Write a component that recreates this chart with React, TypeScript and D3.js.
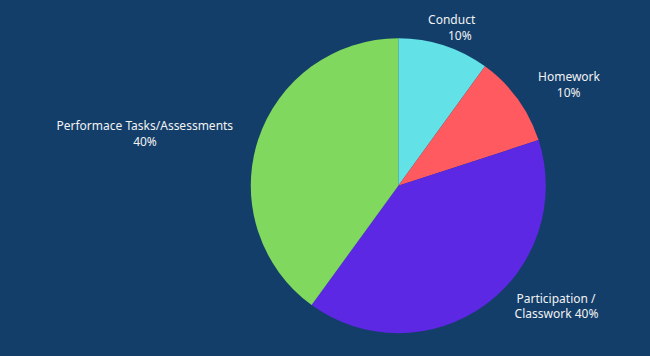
import React from "react";
import * as d3 from "d3";

const categories = ["Conduct", "Homework", "Participation / Classwork", "Performace Tasks/Assessments"];
const values = [10, 10, 40, 40];
const colors = ["#62e1e6", "#ff5a5f", "#5c28e3", "#80d85e"];
const labelLines = [
  ["Conduct", "10%"],
  ["Homework", "10%"],
  ["Participation /", "Classwork 40%"],
  ["Performace Tasks/Assessments", "40%"],
];
// per-line horizontal centres and first baseline
const labelX = [
  [451.7, 459.8],
  [569, 568.7],
  [556, 556.5],
  [144.8, 145],
];
const labelY = [24, 81, 302.5, 130];

export default function App() {
  const W = 650, H = 356;
  const cx = 398.3, cy = 185.7, r = 147.5;
  const pie = d3.pie<number>().sort(null).value((d) => d)(values);
  const arc = d3.arc<d3.PieArcDatum<number>>().innerRadius(0).outerRadius(r);
  return (
    <svg width={W} height={H} style={{ position: "absolute", left: 0, top: 0, display: "block" }}>
      <rect width={W} height={H} fill="#133e6a" />
      <g transform={`translate(${cx},${cy})`}>
        {pie.map((p, i) => (
          <path key={categories[i]} d={arc(p) || ""} fill={colors[i]} />
        ))}
      </g>
      {labelLines.map((lines, i) => (
        <text
          key={i}
          y={labelY[i]}
          textAnchor="middle"
          fontFamily="'Noto Sans', 'Open Sans', sans-serif"
          fontSize={12}
          fill="#f2f2f2"
        >
          {lines.map((l, j) => (
            <tspan key={j} x={labelX[i][j]} dy={j === 0 ? 0 : 15.5}>
              {l}
            </tspan>
          ))}
        </text>
      ))}
    </svg>
  );
}
